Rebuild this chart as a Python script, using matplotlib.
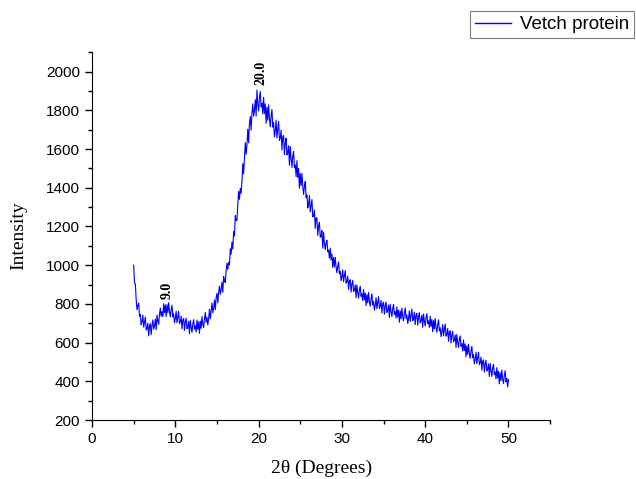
import numpy as np
import matplotlib
matplotlib.use("Agg")
import matplotlib.pyplot as plt
from matplotlib.ticker import MultipleLocator

# 2theta grid of the scan (degrees), 0.1 step
two_theta = np.round(np.arange(5.0, 50.001, 0.1), 1)

# intensity, one row per degree (5.0 ... 49.9, then 50.0)
intensity = [
    1000, 908, 905, 822, 770, 792, 805, 735, 745, 692,
    708, 742, 680, 706, 732, 665, 672, 700, 635, 685,
    697, 641, 690, 717, 670, 687, 722, 666, 742, 713,
    695, 747, 778, 736, 760, 734, 801, 754, 795, 735,
    796, 754, 807, 760, 733, 770, 793, 733, 749, 702,
    724, 762, 703, 732, 762, 698, 707, 737, 671, 718,
    725, 663, 706, 726, 672, 682, 710, 646, 715, 679,
    653, 697, 719, 669, 687, 655, 717, 668, 708, 648,
    711, 674, 735, 696, 678, 724, 756, 705, 730, 692,
    724, 772, 723, 763, 805, 754, 777, 821, 770, 833,
    855, 805, 860, 892, 850, 872, 912, 860, 942, 920,
    910, 970, 1010, 978, 1015, 1002, 1085, 1057, 1120, 1083,
    1173, 1151, 1256, 1230, 1231, 1316, 1382, 1340, 1397, 1371,
    1432, 1525, 1472, 1552, 1633, 1573, 1622, 1702, 1632, 1733,
    1768, 1697, 1783, 1833, 1770, 1800, 1855, 1770, 1905, 1832,
    1797, 1865, 1897, 1818, 1838, 1782, 1867, 1783, 1833, 1733,
    1816, 1749, 1828, 1756, 1715, 1770, 1804, 1713, 1736, 1663,
    1694, 1749, 1658, 1700, 1743, 1645, 1656, 1698, 1595, 1663,
    1670, 1571, 1631, 1656, 1570, 1580, 1617, 1516, 1613, 1552,
    1505, 1563, 1587, 1502, 1518, 1458, 1540, 1453, 1500, 1397,
    1473, 1411, 1474, 1406, 1365, 1408, 1432, 1348, 1363, 1295,
    1316, 1359, 1275, 1306, 1339, 1249, 1253, 1284, 1190, 1244,
    1245, 1154, 1203, 1222, 1144, 1150, 1179, 1088, 1169, 1113,
    1080, 1115, 1129, 1070, 1078, 1036, 1088, 1028, 1058, 988,
    1040, 992, 1041, 990, 961, 996, 1017, 955, 969, 920,
    940, 976, 915, 943, 972, 907, 915, 943, 875, 920,
    925, 861, 902, 920, 864, 872, 898, 832, 898, 859,
    830, 872, 892, 839, 853, 817, 875, 821, 856, 791,
    848, 805, 859, 813, 788, 827, 852, 795, 813, 768,
    792, 832, 775, 806, 838, 776, 787, 818, 753, 801,
    809, 747, 790, 810, 756, 766, 794, 730, 798, 761,
    734, 777, 798, 746, 761, 726, 785, 732, 768, 705,
    764, 723, 779, 735, 712, 753, 780, 724, 743, 699,
    724, 765, 709, 741, 774, 713, 725, 757, 693, 742,
    751, 690, 734, 755, 702, 713, 742, 679, 748, 712,
    686, 729, 750, 698, 713, 678, 737, 684, 720, 656,
    714, 671, 725, 679, 654, 693, 718, 660, 677, 631,
    654, 693, 635, 665, 696, 633, 643, 673, 607, 654,
    661, 598, 640, 659, 604, 613, 640, 575, 642, 604,
    575, 616, 635, 581, 594, 557, 614, 559, 593, 527,
    583, 539, 592, 545, 519, 557, 581, 522, 538, 491,
    513, 551, 492, 521, 551, 487, 496, 525, 458, 504,
    511, 448, 490, 509, 454, 463, 490, 425, 492, 454,
    426, 468, 488, 435, 449, 413, 471, 417, 452, 387,
    445, 403, 458, 413, 389, 429, 455, 398, 416, 371,
    410,
]

# peak labels: position, label height
peak_pos = [9.0, 20.3]
peak_y = [870, 1995]
peak_text = ["9.0", "20.0"]

fig = plt.figure(figsize=(6.36, 4.79), dpi=100)
ax = fig.add_axes([0.1447, 0.123, 0.7203, 0.768])

ax.plot(two_theta, intensity, color="blue", linewidth=0.8, label="Vetch protein")

for xp, yp, t in zip(peak_pos, peak_y, peak_text):
    ax.text(xp, yp, t, rotation=90, ha="center", va="center",
            fontsize=10, fontweight="bold", family="Liberation Serif")

ax.xaxis.set_major_locator(MultipleLocator(10))
ax.xaxis.set_minor_locator(MultipleLocator(5))
ax.set_yticks(list(range(200, 2001, 200)))
ax.yaxis.set_minor_locator(MultipleLocator(100))
ax.set_xlim(0, 55)
ax.set_ylim(200, 2100)

ax.spines["top"].set_visible(False)
ax.spines["right"].set_visible(False)
ax.tick_params(which="major", direction="out", length=5, width=1,
               labelsize=11)
ax.tick_params(which="minor", direction="out", length=3, width=1)
for lab in ax.get_xticklabels() + ax.get_yticklabels():
    lab.set_family("Liberation Sans")

ax.set_xlabel("2θ (Degrees)", family="Liberation Serif", fontsize=14, labelpad=10)
ax.set_ylabel("Intensity", family="Liberation Serif", fontsize=14, labelpad=14)

leg = fig.legend(loc="upper right", bbox_to_anchor=(0.997, 0.976),
                 borderaxespad=0, fancybox=False, edgecolor="gray",
                 framealpha=1, handlelength=1.9, handletextpad=0.5,
                 borderpad=0.25,
                 prop={"family": "Liberation Sans", "size": 13.5})
leg.get_frame().set_linewidth(0.8)
leg.get_lines()[0].set_linewidth(1.0)

fig.savefig("out.png", dpi=100)
